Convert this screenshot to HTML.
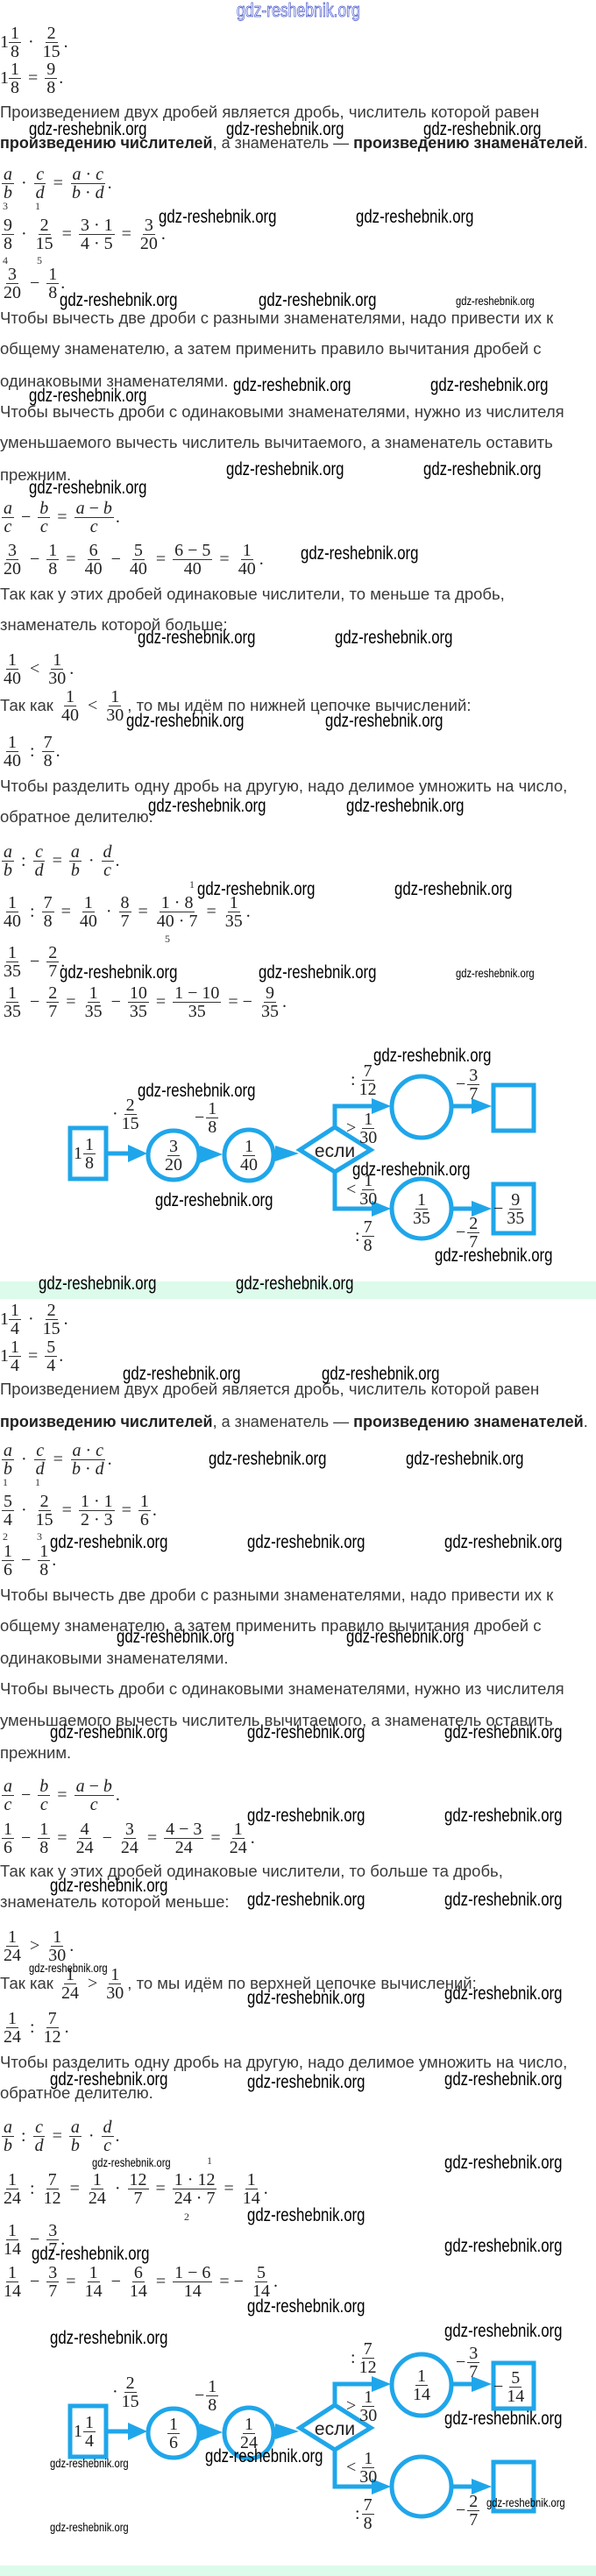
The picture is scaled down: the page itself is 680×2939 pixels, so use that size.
<!DOCTYPE html>
<html><head><meta charset="utf-8">
<style>
html,body{margin:0;padding:0;background:#fff}
body{width:680px;height:2939px;position:relative;overflow:hidden}
.t{position:absolute;left:0;font:18.5px "Liberation Sans",sans-serif;color:#3a3a3a;line-height:20px;white-space:nowrap}
.t b{color:#222}
.tb{font-size:18px}
.m{position:absolute;display:flex;align-items:center;font-family:"Liberation Serif",serif;font-size:20px;color:#222;white-space:nowrap;height:42px}
.c{transform:translateX(-50%)}
.f{display:inline-flex;flex-direction:column;align-items:center;line-height:20px;margin:0 2px}
.f i{font-style:normal;padding:0 2px}
.f i:first-child{border-bottom:1px solid #333}
.o{margin:0 6px}
em{font-style:italic}
.w{position:absolute;font:21px "Liberation Sans",sans-serif;color:#000;line-height:24px;white-space:nowrap;transform:scaleX(0.8);transform-origin:0 0}
.ws{position:absolute;font:14px "Liberation Sans",sans-serif;color:#000;line-height:16px;white-space:nowrap;transform:scaleX(0.8);transform-origin:0 0}
.sm{position:absolute;font:12px "Liberation Serif",serif;color:#333}
.band{position:absolute;left:0;width:680px;background:#dcfbea}
.tx{font-family:"Liberation Sans",sans-serif;font-size:18.5px;color:#3a3a3a}
</style></head><body>

<div style="position:absolute;left:270px;top:0;font:22px 'Liberation Sans',sans-serif;color:#fff;-webkit-text-stroke:0.8px #4455cc;line-height:24px;transform:scaleX(0.8);transform-origin:0 0">gdz-reshebnik.org</div>

<!-- PART 1 -->
<div class="m" style="left:0;top:27px">1<span class="f" style="margin-left:0"><i>1</i><i>8</i></span><span class="o">·</span><span class="f"><i>2</i><i>15</i></span>.</div>
<div class="m" style="left:0;top:68px">1<span class="f" style="margin-left:0"><i>1</i><i>8</i></span><span class="o">=</span><span class="f"><i>9</i><i>8</i></span>.</div>
<div class="t" style="top:118px">Произведением двух дробей является дробь, числитель которой равен</div>
<div class="t tb" style="top:153px"><b>произведению числителей</b>, а знаменатель — <b>произведению знаменателей</b>.</div>
<div class="m" style="left:0;top:188px"><span class="f"><i><em>a</em></i><i><em>b</em></i></span><span class="o">·</span><span class="f"><i><em>c</em></i><i><em>d</em></i></span><span class="o">=</span><span class="f"><i><em>a</em> · <em>c</em></i><i><em>b</em> · <em>d</em></i></span>.</div>
<div class="m" style="left:0;top:246px"><span class="f"><i>9</i><i>8</i></span><span class="o">·</span><span class="f"><i>2</i><i>15</i></span><span class="o">=</span><span class="f"><i>3 · 1</i><i>4 · 5</i></span><span class="o">=</span><span class="f"><i>3</i><i>20</i></span>.</div>
<div class="sm" style="left:3px;top:228px">3</div><div class="sm" style="left:3px;top:290px">4</div>
<div class="sm" style="left:40px;top:228px">1</div><div class="sm" style="left:42px;top:290px">5</div>
<div class="m" style="left:0;top:302px"><span class="f"><i>3</i><i>20</i></span><span class="o">−</span><span class="f"><i>1</i><i>8</i></span>.</div>
<div class="t" style="top:353px">Чтобы вычесть две дроби с разными знаменателями, надо привести их к</div>
<div class="t" style="top:388px">общему знаменателю, а затем применить правило вычитания дробей с</div>
<div class="t" style="top:425px">одинаковыми знаменателями.</div>
<div class="t" style="top:460px">Чтобы вычесть дроби с одинаковыми знаменателями, нужно из числителя</div>
<div class="t" style="top:495px">уменьшаемого вычесть числитель вычитаемого, а знаменатель оставить</div>
<div class="t" style="top:532px">прежним.</div>
<div class="m" style="left:0;top:569px"><span class="f"><i><em>a</em></i><i><em>c</em></i></span><span class="o">−</span><span class="f"><i><em>b</em></i><i><em>c</em></i></span><span class="o">=</span><span class="f"><i><em>a</em> − <em>b</em></i><i><em>c</em></i></span>.</div>
<div class="m" style="left:0;top:617px;background:#fff"><span class="f"><i>3</i><i>20</i></span><span class="o">−</span><span class="f"><i>1</i><i>8</i></span><span class="o">=</span><span class="f"><i>6</i><i>40</i></span><span class="o">−</span><span class="f"><i>5</i><i>40</i></span><span class="o">=</span><span class="f"><i>6 − 5</i><i>40</i></span><span class="o">=</span><span class="f"><i>1</i><i>40</i></span>.</div>
<div class="t" style="top:668px">Так как у этих дробей одинаковые числители, то меньше та дробь,</div>
<div class="t" style="top:703px">знаменатель которой больше:</div>
<div class="m" style="left:0;top:742px"><span class="f"><i>1</i><i>40</i></span><span class="o">&lt;</span><span class="f"><i>1</i><i>30</i></span>.</div>
<div class="m" style="left:0;top:784px"><span class="tx">Так как&nbsp;</span><span class="f"><i>1</i><i>40</i></span><span class="o">&lt;</span><span class="f"><i>1</i><i>30</i></span><span class="tx">, то мы идём по нижней цепочке вычислений:</span></div>
<div class="m" style="left:0;top:836px"><span class="f"><i>1</i><i>40</i></span><span class="o">:</span><span class="f"><i>7</i><i>8</i></span>.</div>
<div class="t" style="top:887px">Чтобы разделить одну дробь на другую, надо делимое умножить на число,</div>
<div class="t" style="top:922px">обратное делителю.</div>
<div class="m" style="left:0;top:961px"><span class="f"><i><em>a</em></i><i><em>b</em></i></span><span class="o">:</span><span class="f"><i><em>c</em></i><i><em>d</em></i></span><span class="o">=</span><span class="f"><i><em>a</em></i><i><em>b</em></i></span><span class="o">·</span><span class="f"><i><em>d</em></i><i><em>c</em></i></span>.</div>
<div class="m" style="left:0;top:1019px"><span class="f"><i>1</i><i>40</i></span><span class="o">:</span><span class="f"><i>7</i><i>8</i></span><span class="o">=</span><span class="f"><i>1</i><i>40</i></span><span class="o">·</span><span class="f"><i>8</i><i>7</i></span><span class="o">=</span><span class="f"><i>1 · 8</i><i>40 · 7</i></span><span class="o">=</span><span class="f"><i>1</i><i>35</i></span>.</div>
<div class="sm" style="left:216px;top:1002px">1</div><div class="sm" style="left:188px;top:1064px">5</div>
<div class="m" style="left:0;top:1076px"><span class="f"><i>1</i><i>35</i></span><span class="o">−</span><span class="f"><i>2</i><i>7</i></span>.</div>
<div class="m" style="left:0;top:1122px"><span class="f"><i>1</i><i>35</i></span><span class="o">−</span><span class="f"><i>2</i><i>7</i></span><span class="o">=</span><span class="f"><i>1</i><i>35</i></span><span class="o">−</span><span class="f"><i>10</i><i>35</i></span><span class="o">=</span><span class="f"><i>1 − 10</i><i>35</i></span><span class="o">= −</span><span class="f"><i>9</i><i>35</i></span>.</div>

<!-- PART 2 -->
<div class="band" style="top:1462px;height:20px"></div>
<div class="m" style="left:0;top:1484px">1<span class="f" style="margin-left:0"><i>1</i><i>4</i></span><span class="o">·</span><span class="f"><i>2</i><i>15</i></span>.</div>
<div class="m" style="left:0;top:1526px">1<span class="f" style="margin-left:0"><i>1</i><i>4</i></span><span class="o">=</span><span class="f"><i>5</i><i>4</i></span>.</div>
<div class="t" style="top:1575px">Произведением двух дробей является дробь, числитель которой равен</div>
<div class="t tb" style="top:1612px"><b>произведению числителей</b>, а знаменатель — <b>произведению знаменателей</b>.</div>
<div class="m" style="left:0;top:1644px"><span class="f"><i><em>a</em></i><i><em>b</em></i></span><span class="o">·</span><span class="f"><i><em>c</em></i><i><em>d</em></i></span><span class="o">=</span><span class="f"><i><em>a</em> · <em>c</em></i><i><em>b</em> · <em>d</em></i></span>.</div>
<div class="m" style="left:0;top:1702px"><span class="f"><i>5</i><i>4</i></span><span class="o">·</span><span class="f"><i>2</i><i>15</i></span><span class="o">=</span><span class="f"><i>1 · 1</i><i>2 · 3</i></span><span class="o">=</span><span class="f"><i>1</i><i>6</i></span>.</div>
<div class="sm" style="left:3px;top:1684px">1</div><div class="sm" style="left:3px;top:1746px">2</div>
<div class="sm" style="left:40px;top:1684px">1</div><div class="sm" style="left:42px;top:1746px">3</div>
<div class="m" style="left:0;top:1759px"><span class="f"><i>1</i><i>6</i></span><span class="o">−</span><span class="f"><i>1</i><i>8</i></span>.</div>
<div class="t" style="top:1810px">Чтобы вычесть две дроби с разными знаменателями, надо привести их к</div>
<div class="t" style="top:1845px">общему знаменателю, а затем применить правило вычитания дробей с</div>
<div class="t" style="top:1882px">одинаковыми знаменателями.</div>
<div class="t" style="top:1917px">Чтобы вычесть дроби с одинаковыми знаменателями, нужно из числителя</div>
<div class="t" style="top:1953px">уменьшаемого вычесть числитель вычитаемого, а знаменатель оставить</div>
<div class="t" style="top:1990px">прежним.</div>
<div class="m" style="left:0;top:2027px"><span class="f"><i><em>a</em></i><i><em>c</em></i></span><span class="o">−</span><span class="f"><i><em>b</em></i><i><em>c</em></i></span><span class="o">=</span><span class="f"><i><em>a</em> − <em>b</em></i><i><em>c</em></i></span>.</div>
<div class="m" style="left:0;top:2076px;background:#fff"><span class="f"><i>1</i><i>6</i></span><span class="o">−</span><span class="f"><i>1</i><i>8</i></span><span class="o">=</span><span class="f"><i>4</i><i>24</i></span><span class="o">−</span><span class="f"><i>3</i><i>24</i></span><span class="o">=</span><span class="f"><i>4 − 3</i><i>24</i></span><span class="o">=</span><span class="f"><i>1</i><i>24</i></span>.</div>
<div class="t" style="top:2125px">Так как у этих дробей одинаковые числители, то больше та дробь,</div>
<div class="t" style="top:2160px">знаменатель которой меньше:</div>
<div class="m" style="left:0;top:2199px"><span class="f"><i>1</i><i>24</i></span><span class="o">&gt;</span><span class="f"><i>1</i><i>30</i></span>.</div>
<div class="m" style="left:0;top:2242px"><span class="tx">Так как&nbsp;</span><span class="f"><i>1</i><i>24</i></span><span class="o">&gt;</span><span class="f"><i>1</i><i>30</i></span><span class="tx">, то мы идём по верхней цепочке вычислений:</span></div>
<div class="m" style="left:0;top:2292px"><span class="f"><i>1</i><i>24</i></span><span class="o">:</span><span class="f"><i>7</i><i>12</i></span>.</div>
<div class="t" style="top:2343px">Чтобы разделить одну дробь на другую, надо делимое умножить на число,</div>
<div class="t" style="top:2378px">обратное делителю.</div>
<div class="m" style="left:0;top:2416px"><span class="f"><i><em>a</em></i><i><em>b</em></i></span><span class="o">:</span><span class="f"><i><em>c</em></i><i><em>d</em></i></span><span class="o">=</span><span class="f"><i><em>a</em></i><i><em>b</em></i></span><span class="o">·</span><span class="f"><i><em>d</em></i><i><em>c</em></i></span>.</div>
<div class="m" style="left:0;top:2476px"><span class="f"><i>1</i><i>24</i></span><span class="o">:</span><span class="f"><i>7</i><i>12</i></span><span class="o">=</span><span class="f"><i>1</i><i>24</i></span><span class="o">·</span><span class="f"><i>12</i><i>7</i></span><span class="o">=</span><span class="f"><i>1 · 12</i><i>24 · 7</i></span><span class="o">=</span><span class="f"><i>1</i><i>14</i></span>.</div>
<div class="sm" style="left:236px;top:2458px">1</div><div class="sm" style="left:210px;top:2522px">2</div>
<div class="m" style="left:0;top:2534px"><span class="f"><i>1</i><i>14</i></span><span class="o">−</span><span class="f"><i>3</i><i>7</i></span>.</div>
<div class="m" style="left:0;top:2582px"><span class="f"><i>1</i><i>14</i></span><span class="o">−</span><span class="f"><i>3</i><i>7</i></span><span class="o">=</span><span class="f"><i>1</i><i>14</i></span><span class="o">−</span><span class="f"><i>6</i><i>14</i></span><span class="o">=</span><span class="f"><i>1 − 6</i><i>14</i></span><span class="o">= −</span><span class="f"><i>5</i><i>14</i></span>.</div>
<div class="band" style="top:2927px;height:12px"></div>

<!-- DIAGRAMS -->
<svg width="680" height="2939" style="position:absolute;left:0;top:0" xmlns="http://www.w3.org/2000/svg">
<defs>
<g id="dg" fill="none" stroke="#1fa6ea" stroke-width="5">
<rect x="80" y="1287" width="41" height="58"/>
<line x1="121" y1="1316" x2="150" y2="1316"/>
<polygon points="146,1306 168,1316 146,1326" fill="#1fa6ea" stroke="none"/>
<ellipse cx="198" cy="1318" rx="29" ry="28"/>
<polygon points="228,1307 254,1317 228,1327" fill="#1fa6ea" stroke="none"/>
<ellipse cx="284" cy="1318" rx="28" ry="29"/>
<polygon points="314,1307 341,1316 314,1325" fill="#1fa6ea" stroke="none"/>
<polygon points="382,1286 423,1312 382,1337 342,1312"/>
<path d="M382,1286 V1262 H432"/>
<polygon points="424,1253 446,1262 424,1271" fill="#1fa6ea" stroke="none"/>
<ellipse cx="481" cy="1263" rx="34" ry="35"/>
<line x1="515" y1="1262" x2="545" y2="1262"/>
<polygon points="538,1253 561,1262 538,1271" fill="#1fa6ea" stroke="none"/>
<rect x="563" y="1238" width="46" height="52"/>
<path d="M382,1337 V1379 H432"/>
<polygon points="424,1370 446,1379 424,1388" fill="#1fa6ea" stroke="none"/>
<ellipse cx="481" cy="1379" rx="34" ry="34"/>
<line x1="515" y1="1379" x2="545" y2="1379"/>
<polygon points="538,1370 561,1379 538,1388" fill="#1fa6ea" stroke="none"/>
<rect x="563" y="1351" width="46" height="56"/>
</g>
</defs>
<use href="#dg"/>
<use href="#dg" transform="translate(0,1458)"/>
<text x="382" y="1320" text-anchor="middle" font-family="Liberation Sans, sans-serif" font-size="21" fill="#222">если</text>
<text x="382" y="2778" text-anchor="middle" font-family="Liberation Sans, sans-serif" font-size="21" fill="#222">если</text>
</svg>

<!-- diagram 1 labels -->
<div class="m" style="left:84px;top:1295px">1<span class="f" style="margin-left:1px"><i>1</i><i>8</i></span></div>
<div class="m c" style="left:198px;top:1297px"><span class="f"><i>3</i><i>20</i></span></div>
<div class="m c" style="left:284px;top:1297px"><span class="f"><i>1</i><i>40</i></span></div>
<div class="m c" style="left:481px;top:1358px"><span class="f"><i>1</i><i>35</i></span></div>
<div class="m" style="left:563px;top:1358px">−<span class="f"><i>9</i><i>35</i></span></div>
<div class="m" style="left:128px;top:1250px">·<span class="f"><i>2</i><i>15</i></span></div>
<div class="m" style="left:222px;top:1254px">−<span class="f"><i>1</i><i>8</i></span></div>
<div class="m" style="left:400px;top:1211px">:<span class="f"><i>7</i><i>12</i></span></div>
<div class="m" style="left:395px;top:1266px">&gt;<span class="f"><i>1</i><i>30</i></span></div>
<div class="m" style="left:395px;top:1336px">&lt;<span class="f"><i>1</i><i>30</i></span></div>
<div class="m" style="left:405px;top:1389px">:<span class="f"><i>7</i><i>8</i></span></div>
<div class="m" style="left:520px;top:1216px">−<span class="f"><i>3</i><i>7</i></span></div>
<div class="m" style="left:520px;top:1385px">−<span class="f"><i>2</i><i>7</i></span></div>

<!-- diagram 2 labels -->
<div class="m" style="left:84px;top:2753px">1<span class="f" style="margin-left:1px"><i>1</i><i>4</i></span></div>
<div class="m c" style="left:198px;top:2755px"><span class="f"><i>1</i><i>6</i></span></div>
<div class="m c" style="left:284px;top:2755px"><span class="f"><i>1</i><i>24</i></span></div>
<div class="m c" style="left:481px;top:2700px"><span class="f"><i>1</i><i>14</i></span></div>
<div class="m" style="left:563px;top:2702px">−<span class="f"><i>5</i><i>14</i></span></div>
<div class="m" style="left:128px;top:2708px">·<span class="f"><i>2</i><i>15</i></span></div>
<div class="m" style="left:222px;top:2712px">−<span class="f"><i>1</i><i>8</i></span></div>
<div class="m" style="left:400px;top:2669px">:<span class="f"><i>7</i><i>12</i></span></div>
<div class="m" style="left:395px;top:2724px">&gt;<span class="f"><i>1</i><i>30</i></span></div>
<div class="m" style="left:395px;top:2794px">&lt;<span class="f"><i>1</i><i>30</i></span></div>
<div class="m" style="left:405px;top:2847px">:<span class="f"><i>7</i><i>8</i></span></div>
<div class="m" style="left:520px;top:2674px">−<span class="f"><i>3</i><i>7</i></span></div>
<div class="m" style="left:520px;top:2843px">−<span class="f"><i>2</i><i>7</i></span></div>

<!-- watermarks -->
<div class="w" style="left:33px;top:136px">gdz-reshebnik.org</div>
<div class="w" style="left:258px;top:136px">gdz-reshebnik.org</div>
<div class="w" style="left:483px;top:136px">gdz-reshebnik.org</div>
<div class="w" style="left:181px;top:236px">gdz-reshebnik.org</div>
<div class="w" style="left:406px;top:236px">gdz-reshebnik.org</div>
<div class="w" style="left:68px;top:331px">gdz-reshebnik.org</div>
<div class="w" style="left:295px;top:331px">gdz-reshebnik.org</div>
<div class="ws" style="left:520px;top:335px">gdz-reshebnik.org</div>
<div class="w" style="left:266px;top:428px">gdz-reshebnik.org</div>
<div class="w" style="left:491px;top:428px">gdz-reshebnik.org</div>
<div class="w" style="left:33px;top:440px">gdz-reshebnik.org</div>
<div class="w" style="left:258px;top:524px">gdz-reshebnik.org</div>
<div class="w" style="left:483px;top:524px">gdz-reshebnik.org</div>
<div class="w" style="left:33px;top:545px">gdz-reshebnik.org</div>
<div class="w" style="left:343px;top:620px">gdz-reshebnik.org</div>
<div class="w" style="left:157px;top:716px">gdz-reshebnik.org</div>
<div class="w" style="left:382px;top:716px">gdz-reshebnik.org</div>
<div class="w" style="left:144px;top:811px">gdz-reshebnik.org</div>
<div class="w" style="left:371px;top:811px">gdz-reshebnik.org</div>
<div class="w" style="left:169px;top:908px">gdz-reshebnik.org</div>
<div class="w" style="left:395px;top:908px">gdz-reshebnik.org</div>
<div class="w" style="left:225px;top:1003px">gdz-reshebnik.org</div>
<div class="w" style="left:450px;top:1003px">gdz-reshebnik.org</div>
<div class="w" style="left:68px;top:1098px">gdz-reshebnik.org</div>
<div class="w" style="left:295px;top:1098px">gdz-reshebnik.org</div>
<div class="ws" style="left:520px;top:1102px">gdz-reshebnik.org</div>
<div class="w" style="left:426px;top:1193px">gdz-reshebnik.org</div>
<div class="w" style="left:157px;top:1233px">gdz-reshebnik.org</div>
<div class="w" style="left:402px;top:1323px">gdz-reshebnik.org</div>
<div class="w" style="left:177px;top:1358px">gdz-reshebnik.org</div>
<div class="w" style="left:496px;top:1421px">gdz-reshebnik.org</div>
<div class="w" style="left:44px;top:1453px">gdz-reshebnik.org</div>
<div class="w" style="left:269px;top:1453px">gdz-reshebnik.org</div>
<div class="w" style="left:140px;top:1556px">gdz-reshebnik.org</div>
<div class="w" style="left:367px;top:1556px">gdz-reshebnik.org</div>
<div class="w" style="left:238px;top:1653px">gdz-reshebnik.org</div>
<div class="w" style="left:463px;top:1653px">gdz-reshebnik.org</div>
<div class="w" style="left:57px;top:1748px">gdz-reshebnik.org</div>
<div class="w" style="left:282px;top:1748px">gdz-reshebnik.org</div>
<div class="w" style="left:507px;top:1748px">gdz-reshebnik.org</div>
<div class="w" style="left:133px;top:1856px">gdz-reshebnik.org</div>
<div class="w" style="left:395px;top:1856px">gdz-reshebnik.org</div>
<div class="w" style="left:57px;top:1965px">gdz-reshebnik.org</div>
<div class="w" style="left:282px;top:1965px">gdz-reshebnik.org</div>
<div class="w" style="left:507px;top:1965px">gdz-reshebnik.org</div>
<div class="w" style="left:282px;top:2060px">gdz-reshebnik.org</div>
<div class="w" style="left:507px;top:2060px">gdz-reshebnik.org</div>
<div class="w" style="left:57px;top:2140px">gdz-reshebnik.org</div>
<div class="w" style="left:282px;top:2156px">gdz-reshebnik.org</div>
<div class="w" style="left:507px;top:2156px">gdz-reshebnik.org</div>
<div class="ws" style="left:33px;top:2237px">gdz-reshebnik.org</div>
<div class="w" style="left:282px;top:2268px">gdz-reshebnik.org</div>
<div class="w" style="left:507px;top:2263px">gdz-reshebnik.org</div>
<div class="w" style="left:57px;top:2361px">gdz-reshebnik.org</div>
<div class="w" style="left:282px;top:2364px">gdz-reshebnik.org</div>
<div class="w" style="left:507px;top:2361px">gdz-reshebnik.org</div>
<div class="ws" style="left:105px;top:2459px">gdz-reshebnik.org</div>
<div class="w" style="left:507px;top:2456px">gdz-reshebnik.org</div>
<div class="w" style="left:282px;top:2516px">gdz-reshebnik.org</div>
<div class="w" style="left:507px;top:2551px">gdz-reshebnik.org</div>
<div class="w" style="left:36px;top:2560px">gdz-reshebnik.org</div>
<div class="w" style="left:282px;top:2620px">gdz-reshebnik.org</div>
<div class="w" style="left:507px;top:2648px">gdz-reshebnik.org</div>
<div class="w" style="left:57px;top:2656px">gdz-reshebnik.org</div>
<div class="w" style="left:507px;top:2748px">gdz-reshebnik.org</div>
<div class="w" style="left:234px;top:2791px">gdz-reshebnik.org</div>
<div class="ws" style="left:57px;top:2802px">gdz-reshebnik.org</div>
<div class="ws" style="left:555px;top:2847px">gdz-reshebnik.org</div>
<div class="ws" style="left:57px;top:2875px">gdz-reshebnik.org</div>
</body></html>
